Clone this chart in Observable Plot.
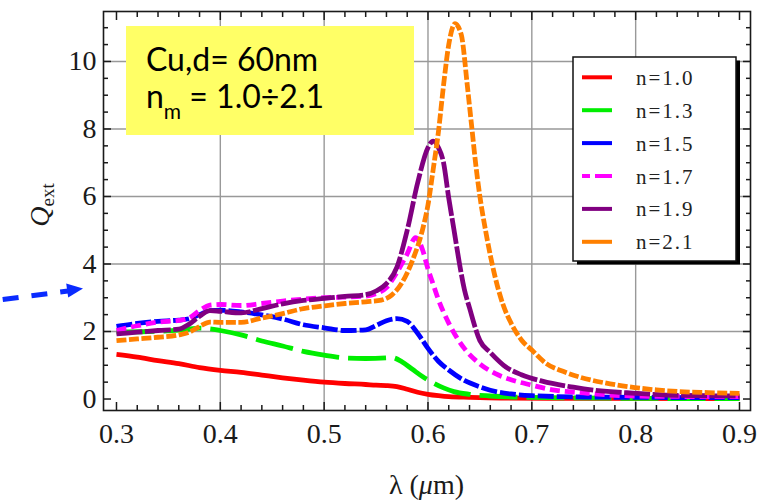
<!DOCTYPE html>
<html><head><meta charset="utf-8">
<script src="https://cdn.jsdelivr.net/npm/d3@7"></script>
<script src="https://cdn.jsdelivr.net/npm/@observablehq/plot@0.6"></script>
<style>
html,body{margin:0;padding:0;background:#fff;}
#wrap{position:relative;width:758px;height:503px;overflow:hidden;}
#wrap svg{position:absolute;left:0;top:0;}
.serif{font-family:"Liberation Serif","Times New Roman",Times,"DejaVu Serif",serif;}
</style></head><body><div id="wrap"></div>
<script>
// ---- data ----
const lam_n10 = [0.30,0.32,0.34,0.36,0.38,0.40,0.42,0.44,0.46,0.48,0.50,0.52,0.54,0.55,0.56,0.57,0.58,0.59,0.60,0.61,0.62,0.64,0.67,0.75,0.90];
const q_n10   = [1.32,1.24,1.14,1.05,0.93,0.85,0.79,0.71,0.63,0.56,0.50,0.46,0.43,0.41,0.40,0.37,0.29,0.20,0.14,0.10,0.07,0.05,0.03,0.02,0.01];

const lam_n13 = [0.30,0.33,0.36,0.37,0.38,0.39,0.40,0.42,0.44,0.46,0.48,0.50,0.52,0.54,0.56,0.565,0.575,0.585,0.595,0.605,0.615,0.625,0.64,0.66,0.70,0.80,0.90];
const q_n13   = [1.98,2.00,2.04,2.07,2.10,2.08,2.03,1.90,1.72,1.57,1.41,1.30,1.22,1.20,1.22,1.23,1.10,0.88,0.66,0.48,0.33,0.22,0.14,0.09,0.05,0.02,0.01];

const lam_n15 = [0.30,0.32,0.34,0.36,0.37,0.38,0.39,0.40,0.42,0.44,0.46,0.48,0.50,0.52,0.54,0.55,0.56,0.57,0.58,0.59,0.60,0.61,0.62,0.635,0.65,0.66,0.68,0.70,0.75,0.80,0.90];
const q_n15   = [2.15,2.24,2.30,2.34,2.38,2.50,2.62,2.63,2.58,2.49,2.37,2.20,2.11,2.03,2.05,2.18,2.32,2.38,2.30,1.95,1.50,1.12,0.86,0.55,0.36,0.26,0.15,0.10,0.06,0.05,0.04];

const lam_n17 = [0.30,0.32,0.34,0.36,0.37,0.38,0.39,0.40,0.42,0.44,0.46,0.48,0.50,0.52,0.54,0.55,0.56,0.57,0.58,0.588,0.595,0.60,0.605,0.61,0.62,0.635,0.65,0.665,0.68,0.70,0.72,0.75,0.78,0.82,0.90];
const q_n17   = [2.03,2.17,2.28,2.33,2.40,2.62,2.78,2.80,2.77,2.83,2.90,2.96,3.00,3.02,3.05,3.12,3.30,3.75,4.30,4.78,4.40,3.85,3.40,2.95,2.25,1.50,1.04,0.75,0.57,0.41,0.27,0.18,0.11,0.08,0.07];

const lam_n19 = [0.30,0.32,0.34,0.36,0.37,0.38,0.39,0.40,0.42,0.44,0.46,0.48,0.50,0.52,0.54,0.55,0.56,0.57,0.58,0.59,0.60,0.605,0.61,0.615,0.62,0.625,0.63,0.635,0.64,0.65,0.66,0.675,0.69,0.71,0.74,0.76,0.80,0.84,0.90];
const q_n19   = [1.93,1.98,2.03,2.07,2.22,2.45,2.62,2.60,2.55,2.68,2.82,2.92,2.98,3.04,3.09,3.20,3.42,3.90,5.00,6.40,7.45,7.64,7.45,7.00,5.95,5.02,4.07,3.25,2.70,1.73,1.38,0.95,0.72,0.53,0.35,0.26,0.17,0.11,0.09];

const lam_n21 = [0.30,0.32,0.34,0.36,0.37,0.38,0.39,0.40,0.42,0.44,0.46,0.48,0.50,0.52,0.54,0.555,0.565,0.575,0.585,0.595,0.60,0.605,0.61,0.615,0.62,0.626,0.632,0.638,0.642,0.646,0.65,0.656,0.664,0.672,0.68,0.69,0.70,0.714,0.73,0.746,0.77,0.794,0.82,0.842,0.87,0.90];
const q_n21   = [1.73,1.78,1.83,1.90,1.98,2.15,2.28,2.27,2.27,2.40,2.53,2.68,2.76,2.83,2.88,2.93,3.08,3.45,4.10,5.05,5.75,6.80,7.90,9.30,10.50,11.12,10.80,9.25,8.10,6.95,6.00,4.90,3.70,2.82,2.25,1.75,1.45,1.05,0.82,0.65,0.48,0.36,0.27,0.22,0.19,0.17];

const seriesNames  = ["n=1.0","n=1.3","n=1.5","n=1.7","n=1.9","n=2.1"];
const seriesLam    = [lam_n10, lam_n13, lam_n15, lam_n17, lam_n19, lam_n21];
const seriesQ      = [q_n10, q_n13, q_n15, q_n17, q_n19, q_n21];
const seriesColors = ["#ff0000","#00ee00","#0000ff","#ff00ff","#800080","#ff8000"];
const seriesDash   = [null,"38,9","16,3","10,5","26,2.5","10,2.5"];

const xMajor = [0.3,0.4,0.5,0.6,0.7,0.8,0.9];
const xMinor = [0.32,0.34,0.36,0.38,0.42,0.44,0.46,0.48,0.52,0.54,0.56,0.58,0.62,0.64,0.66,0.68,0.72,0.74,0.76,0.78,0.82,0.84,0.86,0.88];
const xGrid  = [0.4,0.5,0.6,0.7,0.8];
const yMajor = [0,2,4,6,8,10];
const yMinor = [0.5,1,1.5,2.5,3,3.5,4.5,5,5.5,6.5,7,7.5,8.5,9,9.5,10.5,11];
const yGrid  = [2,4,6,8,10];

// ---- chart ----
const SERIF = '"Liberation Serif","Times New Roman",Times,"DejaVu Serif",serif';
const rows = seriesNames.map((name, i) => seriesLam[i].map((l, j) => ({series: name, lam: l, q: seriesQ[i][j]})));
const tk = {stroke: "#1a1a1a", strokeWidth: 1.5, fill: "none"};

const chart = Plot.plot({
  width: 758, height: 503,
  marginLeft: 103, marginRight: 8, marginTop: 11, marginBottom: 93,
  x: {domain: [0.2875, 0.9106], label: null},
  y: {domain: [-0.34, 11.48], label: null},
  style: {fontFamily: SERIF, fontSize: "28px", background: "transparent", color: "#1a1a1a"},
  marks: [
    Plot.gridX(xGrid, {stroke: "#999", strokeOpacity: 1, strokeWidth: 1.4}),
    Plot.gridY(yGrid, {stroke: "#999", strokeOpacity: 1, strokeWidth: 1.4}),
    ...rows.map((r, i) => Plot.line(r, {x: "lam", y: "q", stroke: seriesColors[i], strokeWidth: 4.8,
        strokeDasharray: seriesDash[i] ?? undefined, strokeLinecap: "butt", curve: "monotone-x"})),
    Plot.frame({stroke: "#1a1a1a", strokeWidth: 1.6}),
    Plot.axisX(xMajor, {anchor: "bottom", tickSize: 8, dy: -8, ...tk}),
    Plot.axisX(xMinor, {anchor: "bottom", tickSize: 5, dy: -5, ...tk}),
    Plot.axisX(xMajor, {anchor: "top", tickSize: 8, dy: 8, ...tk}),
    Plot.axisX(xMinor, {anchor: "top", tickSize: 5, dy: 5, ...tk}),
    Plot.axisY(yMajor, {anchor: "left", tickSize: 8, dx: 8, ...tk}),
    Plot.axisY(yMinor, {anchor: "left", tickSize: 5, dx: 5, ...tk}),
    Plot.axisY(yMajor, {anchor: "right", tickSize: 8, dx: -8, ...tk}),
    Plot.axisY(yMinor, {anchor: "right", tickSize: 5, dx: -5, ...tk}),
    Plot.axisX(xMajor, {anchor: "bottom", tickSize: 0, tickPadding: 13, tickFormat: d => d.toFixed(1), label: null, fill: "#1a1a1a", fontFamily: SERIF, fontSize: 28}),
    Plot.axisY(yMajor, {anchor: "left", tickSize: 0, tickPadding: 7, tickFormat: d => String(d), label: null, fill: "#1a1a1a", fontFamily: SERIF, fontSize: 28})
  ]
});
const wrap = document.getElementById("wrap");
wrap.appendChild(chart);

// ---- overlay: annotation box, legend, axis titles, arrow ----
const NS = "http://www.w3.org/2000/svg";
const ov = document.createElementNS(NS, "svg");
ov.setAttribute("width", 758); ov.setAttribute("height", 503);
let legendRows = "";
seriesNames.forEach((name, i) => {
  const y = 77.3 + i * 32.9;
  const dash = i === 3 ? ' stroke-dasharray="8,5,20"' : "";
  legendRows += `<line x1="582" x2="612" y1="${y}" y2="${y}" stroke="${seriesColors[i]}" stroke-width="4"${dash}/>`;
  legendRows += `<text class="serif" x="636" y="${y + 7.5}" font-size="21" letter-spacing="2" fill="#222">${name}</text>`;
});
ov.innerHTML = `
  <rect x="126" y="26" width="288" height="109" fill="#ffff66"/>
  <text x="146" y="70.5" font-family="Lato, 'Open Sans', sans-serif" font-size="32" fill="#000">Cu,d= 60nm</text>
  <text x="146" y="108" font-family="Lato, 'Open Sans', sans-serif" font-size="32" fill="#000">n<tspan font-size="21" dy="11">m</tspan><tspan dy="-11"> = 1.0÷2.1</tspan></text>
  <rect x="577" y="60.5" width="163" height="204" fill="#000"/>
  <rect x="573" y="57" width="163" height="204" fill="#fff" stroke="#111" stroke-width="1.5"/>
  ${legendRows}
  <text class="serif" transform="translate(49,205) rotate(-90)" text-anchor="middle" font-size="28" fill="#1a1a1a"><tspan font-style="italic">Q</tspan><tspan font-size="19" dy="5">ext</tspan></text>
  <text class="serif" x="426.5" y="494" text-anchor="middle" font-size="28" fill="#1a1a1a">λ (<tspan font-style="italic">μ</tspan>m)</text>
  <line x1="2.7" y1="299.5" x2="68" y2="291" stroke="#0a2bff" stroke-width="5" stroke-dasharray="16,13"/>
  <polygon points="83,288.5 66.2,283.6 68.2,297.4" fill="#0a2bff"/>
`;
wrap.appendChild(ov);
</script>
</body></html>
